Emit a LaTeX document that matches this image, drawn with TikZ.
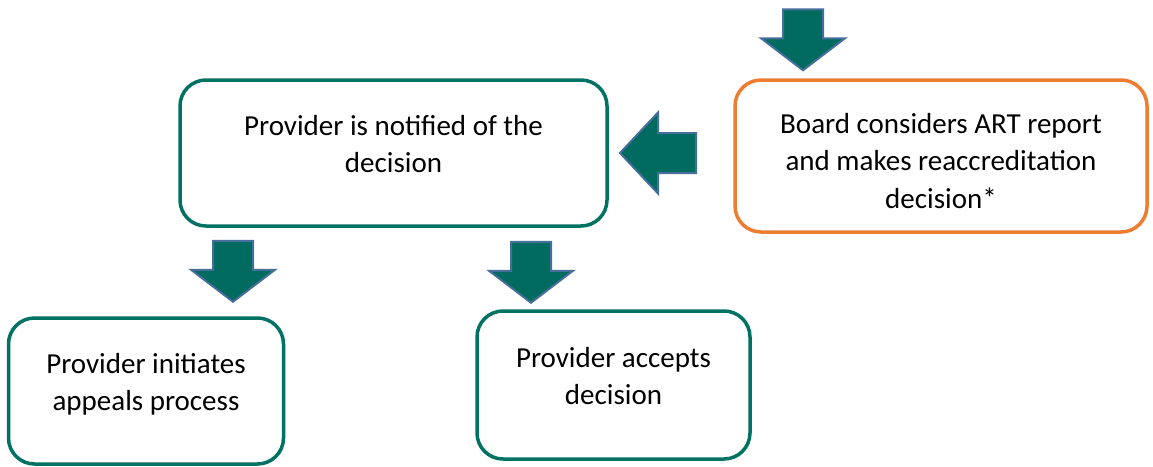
\documentclass[tikz,border=0pt]{standalone}
\usepackage{fontspec}
\setmainfont{Carlito}
\definecolor{boxgreen}{RGB}{0,114,99}
\definecolor{arrowfill}{RGB}{0,107,94}
\definecolor{arrowline}{RGB}{70,110,155}
\definecolor{boxorange}{RGB}{237,125,49}
\tikzset{
	stagebox/.style={
			draw=#1, line width=3.5pt, rounded corners=26pt, fill=white,
			align=center, inner sep=0pt,
			font=\fontsize{29}{37.5}\selectfont
		},
	blockarrow/.style={
			draw=arrowline, fill=arrowfill, line width=2pt, line join=miter
		},
	pics/downarrow/.style={
			code={\draw[blockarrow] (-20,0) -- (20,0) -- (20,29) -- (42,29) -- (0,61) -- (-42,29) -- (-20,29) -- cycle;}
		},
	pics/leftarrow/.style={
			code={\draw[blockarrow] (0,0) -- (38,-40.5) -- (38,-20) -- (76,-20) -- (76,20) -- (38,20) -- (38,40.5) -- cycle;}
		}
}

\begin{document}
\begin{tikzpicture}[x=1pt, y=-1pt]
			\useasboundingbox (0,0) rectangle (1153,466);

			% boxes
			\node[stagebox=boxgreen, minimum width=427pt, minimum height=146pt] (notified) at (393.5,153) {Provider is notified of the\\decision\\[-19pt]};
			\node[stagebox=boxorange, minimum width=412pt, minimum height=152pt] (board) at (941,156) {\rule{0pt}{30pt}Board considers ART report\\and makes reaccreditation\\decision*};
			\node[stagebox=boxgreen, minimum width=275pt, minimum height=146pt] (appeals) at (146,391) {Provider initiates\\appeals process\\[-19pt]};
			\node[stagebox=boxgreen, minimum width=273pt, minimum height=148pt] (accepts) at (613.5,385) {Provider accepts\\decision\\[-19pt]};

			% block arrows
			\pic at ([yshift=69pt]board.north -| 803,0) {downarrow};
			\pic at (notified.east -| 620,0) {leftarrow};
			\pic at ([yshift=-13pt]notified.south -| 233,0) {downarrow};
			\pic at ([yshift=-14pt]notified.south -| 531,0) {downarrow};
		\end{tikzpicture}
\end{document}
